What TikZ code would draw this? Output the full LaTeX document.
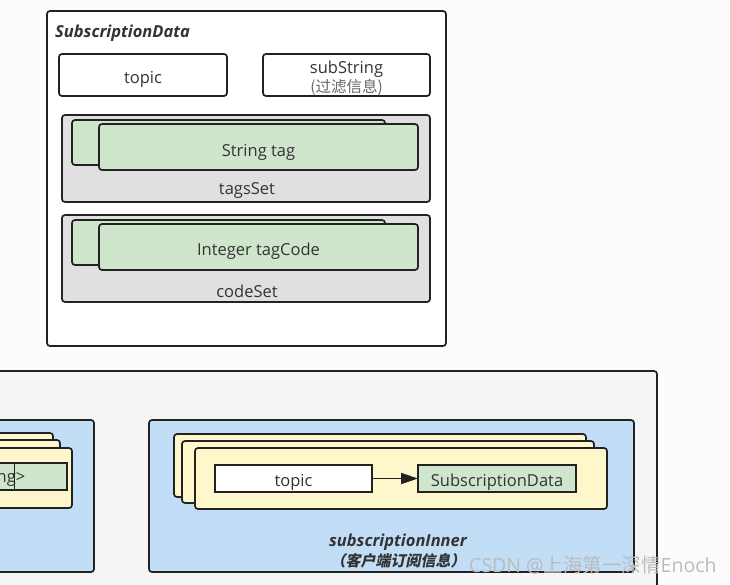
\documentclass[tikz,border=0pt]{standalone}
\usepackage{fontspec}
\setmainfont{Open Sans}
\newfontfamily\cjk{Noto Sans CJK SC}
\newfontfamily\cjkit[FakeSlant=0.2]{Noto Sans CJK SC}
\usetikzlibrary{arrows.meta}
\definecolor{bgc}{HTML}{FCFCFC}
\definecolor{bigc}{HTML}{F5F5F5}
\definecolor{grayc}{HTML}{E0E0E0}
\definecolor{greenc}{HTML}{D0E6CC}
\definecolor{yellowc}{HTML}{FFF7CC}
\definecolor{bluec}{HTML}{C2DDF6}
\definecolor{linec}{HTML}{222222}
\definecolor{txtc}{HTML}{333333}
\definecolor{wmc}{HTML}{BBBBBB}
\tikzset{
  box/.style={draw=linec, line width=1.7pt, rounded corners=3pt, inner sep=0pt, outer sep=0pt},
  sbox/.style={draw=linec, line width=1.7pt, inner sep=0pt, outer sep=0pt},
  txt/.style={text=txtc, inner sep=0pt, yshift=-2.5pt, font=\fontsize{16.5}{18}\selectfont},
  ttl/.style={text=txtc, inner sep=0pt, yshift=-1pt, font=\fontsize{16.5}{18}\selectfont\bfseries\itshape},
}
\begin{document}
\begin{tikzpicture}[x=1pt,y=-1pt]
\useasboundingbox (0,0) rectangle (730,584);
\clip (0,0) rectangle (730,584);
\fill[bgc] (0,0) rectangle (730,584);

% ---- SubscriptionData (top) ----
\node[box, fill=white, minimum width=399pt, minimum height=335pt] (sd) at (246.5,178.5) {};
\node[ttl, anchor=west] (sdtitle) at (55,32) {SubscriptionData};
\node[box, fill=white, minimum width=168pt, minimum height=42pt] (topicT) at (143,75) {};
\node[txt] (topicTt) at (143,77) {topic};
\node[box, fill=white, minimum width=167pt, minimum height=42pt] (subs) at (346.5,75) {};
\node[txt] (subst) at (346.5,67) {subString};
\node[txt, text=black!60, font=\fontsize{15.5}{18}\cjk] (substc) at (346.5,85) {(过滤信息)};

% tagsSet
\node[box, fill=grayc, minimum width=368pt, minimum height=87pt] (tags) at (246,158.5) {};
\node[box, fill=greenc, minimum width=313pt, minimum height=45pt] (tagb) at (228.5,142.5) {};
\node[box, fill=greenc, minimum width=319pt, minimum height=46pt] (tagf) at (258.5,147) {};
\node[txt] (tagft) at (258.5,150) {String tag};
\node[txt] (tagsl) at (247,188) {tagsSet};

% codeSet
\node[box, fill=grayc, minimum width=368pt, minimum height=87pt] (codes) at (246,258.5) {};
\node[box, fill=greenc, minimum width=313pt, minimum height=45pt] (codeb) at (228.5,242.5) {};
\node[box, fill=greenc, minimum width=319pt, minimum height=46pt] (codef) at (258.5,247) {};
\node[txt] (codeft) at (258.5,249) {Integer tagCode};
\node[txt] (codesl) at (247,289) {codeSet};

% ---- big lower container ----
\node[box, fill=bigc, minimum width=697pt, minimum height=269pt] (big) at (308.5,505.5) {};

% left blue box (cut off)
\node[box, fill=bluec, minimum width=174pt, minimum height=152pt, anchor=north east] (lb) at (94,420) {};
\node[box, fill=yellowc, minimum width=300pt, minimum height=64pt, anchor=north east] (lc1) at (53,433) {};
\node[box, fill=yellowc, minimum width=300pt, minimum height=63pt, anchor=north east] (lc2) at (60,440) {};
\node[box, fill=yellowc, minimum width=300pt, minimum height=60pt, anchor=north east] (lc3) at (72,448) {};
\node[sbox, fill=greenc, minimum width=200pt, minimum height=27pt, anchor=north east] (lg) at (67,463) {};
\node[txt, anchor=east] (lgt) at (25.5,477) {ng>};
\draw[linec, line width=0.8pt] (lg.north -| 14,0) -- (lg.south -| 14,0);

% right blue box: subscriptionInner
\node[box, fill=bluec, minimum width=485pt, minimum height=152pt] (rb) at (391.5,496) {};
\node[box, fill=yellowc, minimum width=412pt, minimum height=63pt] (rc1) at (380,465.5) {};
\node[box, fill=yellowc, minimum width=412pt, minimum height=62pt] (rc2) at (388,472) {};
\node[box, fill=yellowc, minimum width=412pt, minimum height=61pt] (rc3) at (401,478.5) {};
\node[sbox, fill=white, minimum width=157pt, minimum height=27pt] (rtopic) at (293.5,478.5) {};
\node[txt] (rtopict) at (293.5,480) {topic};
\node[sbox, fill=greenc, minimum width=158pt, minimum height=27pt] (rsd) at (497,478.5) {};
\node[txt] (rsdt) at (497,480) {SubscriptionData};
\draw[linec, line width=1.7pt, -{Triangle[length=17pt,width=11pt]}] (rtopic.east) -- (rsd.west);
\node[ttl] (rbl1) at (398,541) {subscriptionInner};
\node[text=txtc, inner sep=0pt, font=\fontsize{15}{18}\cjkit\bfseries] (rbl2) at (398,561) {（客户端订阅信息）};

% watermark
\node[text=wmc, inner sep=0pt, anchor=west, font=\fontsize{19.5}{21}\selectfont] (wm) at (469,565) {CSDN @{\cjk 上海第一深情}Enoch};
\end{tikzpicture}
\end{document}
